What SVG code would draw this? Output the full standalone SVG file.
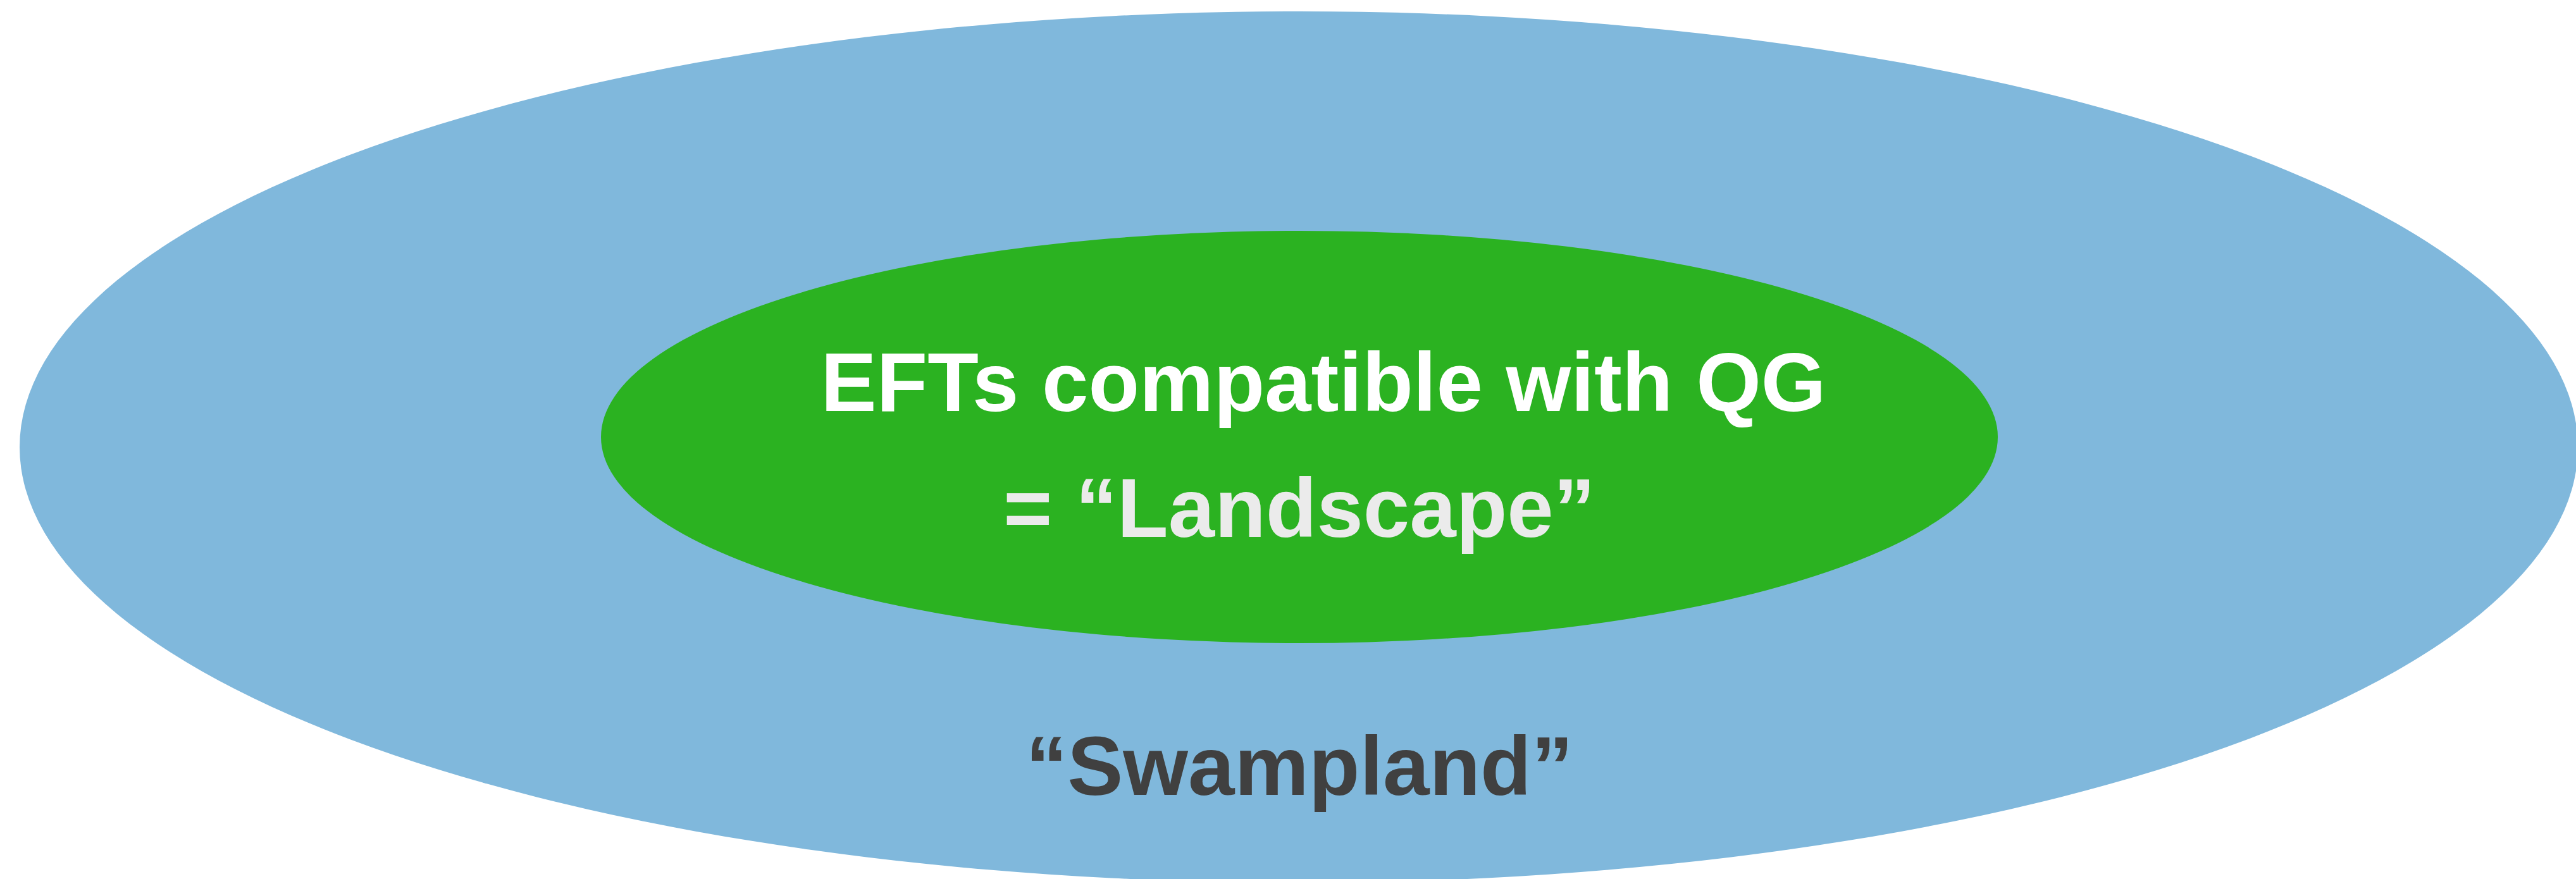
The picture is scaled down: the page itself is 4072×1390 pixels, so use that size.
<svg xmlns="http://www.w3.org/2000/svg" width="4072" height="1390" viewBox="0 0 4072 1390">
<style>
.lbl{font-family:"Liberation Sans",Arial,sans-serif;font-weight:bold;font-size:132px;text-anchor:middle}
</style>
<rect width="4072" height="1390" fill="#ffffff"/>
<g id="swampland">
<ellipse cx="2053" cy="707" rx="2022" ry="689" fill="#80b8dc"/>
<text class="lbl" x="2054" y="1257" fill="#404040">“Swampland”</text>
</g>
<g id="landscape">
<ellipse cx="2054" cy="691" rx="1104" ry="326" fill="#2bb221"/>
<text class="lbl" x="2092" y="650" fill="#ffffff">EFTs compatible with QG</text>
<text class="lbl" x="2054" y="849" fill="#ebebeb">= “Landscape”</text>
</g>
</svg>
